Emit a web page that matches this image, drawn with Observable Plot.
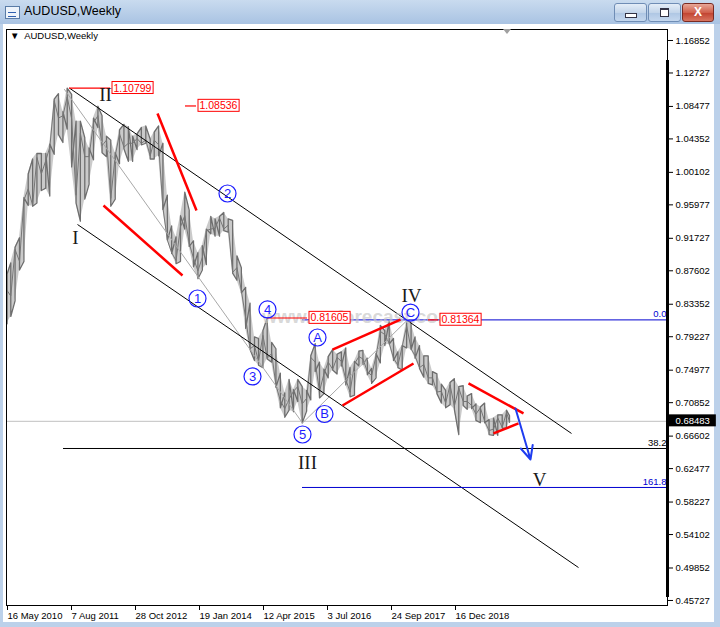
<!DOCTYPE html>
<html><head><meta charset="utf-8">
<script src="https://cdn.jsdelivr.net/npm/d3@7"></script>
<script src="https://cdn.jsdelivr.net/npm/@observablehq/plot@0.6"></script>
<style>
body{margin:0;background:#fff;}
#win{position:relative;width:720px;height:627px;background:#bcd1ea;overflow:hidden;font-family:"Liberation Sans",Arial,sans-serif;}
#titlebar{position:absolute;left:0;top:0;width:720px;height:24px;background:linear-gradient(#c9dbef,#a9c3e3);}
#ttl{position:absolute;left:24px;top:4px;font-size:12.5px;color:#000;}
#icon{position:absolute;left:5px;top:6px;width:13px;height:11px;border:1px solid #5a7ca6;background:#eef4fb;}
#icon:after{content:"";position:absolute;left:2px;top:5px;width:8px;height:3px;border-top:1px solid #3060b0;border-bottom:1px solid #3060b0;}
.btn{position:absolute;top:3px;height:17px;border:1px solid #6f8db5;border-radius:3px;background:linear-gradient(#e4edf7,#c3d5ea 50%,#aec6e3 51%,#c4d7ee);}
#bmin{left:614px;width:31px;}
#bmin:after{content:"";position:absolute;left:10px;top:9px;width:10px;height:3px;border:1px solid #334;background:#fff;}
#bmax{left:648px;width:31px;}
#bmax:after{content:"";position:absolute;left:11px;top:4px;width:7px;height:6px;border:1px solid #334;border-top-width:2px;background:#fff;}
#bcls{left:682px;width:30px;border-color:#7a2b23;background:linear-gradient(#e8a797,#d0604c 50%,#c0412f 51%,#d87560);color:#fff;font:bold 12px "Liberation Sans",Arial;text-align:center;line-height:17px;}
#panel{position:absolute;left:3px;top:24px;width:711px;height:598px;background:#fff;}
#chart{position:absolute;left:0;top:0;}
#thick{position:absolute;left:666px;top:60px;width:3px;height:537px;background:#000;}
#clabel{position:absolute;left:10px;top:30px;font-size:9.5px;color:#000;}
#shift{position:absolute;left:503px;top:29px;width:0;height:0;border-left:4px solid transparent;border-right:4px solid transparent;border-top:5px solid #a0a0a0;}
</style></head>
<body>
<div id="win">
  <div id="titlebar"><div id="icon"></div><div id="ttl">AUDUSD,Weekly</div>
    <div class="btn" id="bmin"></div><div class="btn" id="bmax"></div><div class="btn" id="bcls">X</div></div>
  <div id="panel"></div>
</div>
<script>
// ---- data (monthly high / low / close) ----
const months = [
"2010-05-20","2010-06-15","2010-07-15","2010-08-15","2010-09-15","2010-10-15","2010-11-15","2010-12-15",
"2011-01-15","2011-02-15","2011-03-15","2011-04-15","2011-05-15","2011-06-15","2011-07-15","2011-08-15","2011-09-15","2011-10-15","2011-11-15","2011-12-15",
"2012-01-15","2012-02-15","2012-03-15","2012-04-15","2012-05-15","2012-06-15","2012-07-15","2012-08-15","2012-09-15","2012-10-15","2012-11-15","2012-12-15",
"2013-01-15","2013-02-15","2013-03-15","2013-04-15","2013-05-15","2013-06-15","2013-07-15","2013-08-15","2013-09-15","2013-10-15","2013-11-15","2013-12-15",
"2014-01-15","2014-02-15","2014-03-15","2014-04-15","2014-05-15","2014-06-15","2014-07-15","2014-08-15","2014-09-15","2014-10-15","2014-11-15","2014-12-15",
"2015-01-15","2015-02-15","2015-03-15","2015-04-15","2015-05-15","2015-06-15","2015-07-15","2015-08-15","2015-09-15","2015-10-15","2015-11-15","2015-12-15",
"2016-01-15","2016-02-15","2016-03-15","2016-04-15","2016-05-15","2016-06-15","2016-07-15","2016-08-15","2016-09-15","2016-10-15","2016-11-15","2016-12-15",
"2017-01-15","2017-02-15","2017-03-15","2017-04-15","2017-05-15","2017-06-15","2017-07-15","2017-08-15","2017-09-15","2017-10-15","2017-11-15","2017-12-15",
"2018-01-15","2018-02-15","2018-03-15","2018-04-15","2018-05-15","2018-06-15","2018-07-15","2018-08-15","2018-09-15","2018-10-15","2018-11-15","2018-12-15",
"2019-01-15","2019-02-15","2019-03-15","2019-04-15","2019-05-15","2019-06-15","2019-07-15","2019-08-15","2019-09-15","2019-10-15","2019-11-15","2019-12-15",
"2020-01-05"];
const highs = [
0.8720,0.8860,0.9060,0.9180,0.9690,0.9990,1.0180,1.0250,
1.0250,1.0250,1.0370,1.0940,1.1010,1.0780,1.1080,1.1000,1.0660,1.0660,1.0450,1.0320,
1.0700,1.0850,1.0730,1.0470,1.0420,1.0260,1.0550,1.0620,1.0590,1.0470,1.0500,1.0580,
1.0600,1.0430,1.0520,1.0600,1.0380,0.9720,0.9330,0.9190,0.9460,0.9760,0.9530,0.9140,
0.8990,0.9080,0.9290,0.9450,0.9420,0.9450,0.9500,0.9420,0.9400,0.8950,0.8800,0.8550,
0.8350,0.7920,0.7900,0.8000,0.8160,0.7850,0.7770,0.7460,0.7210,0.7380,0.7250,0.7380,
0.7290,0.7240,0.7680,0.7835,0.7600,0.7510,0.7670,0.7760,0.7700,0.7730,0.7780,0.7530,
0.7610,0.7740,0.7750,0.7650,0.7520,0.7710,0.8065,0.8000,0.8125,0.7900,0.7730,0.7810,
0.8136,0.8100,0.7920,0.7810,0.7680,0.7680,0.7480,0.7450,0.7320,0.7240,0.7340,0.7390,
0.7290,0.7300,0.7170,0.7200,0.7070,0.7030,0.7080,0.6870,0.6890,0.6930,0.6930,0.6990,
0.6920];
const lows = [
0.8087,0.8180,0.8380,0.8770,0.8880,0.9590,0.9580,0.9620,
0.9780,0.9810,0.9710,1.0240,1.0490,1.0390,1.0560,1.0080,0.9620,0.9390,0.9670,0.9860,
1.0170,1.0580,1.0260,1.0210,0.9580,0.9670,1.0120,1.0310,1.0150,1.0150,1.0300,1.0360,
1.0380,1.0180,1.0180,1.0220,0.9540,0.9150,0.8980,0.8850,0.8880,0.9290,0.9070,0.8810,
0.8660,0.8770,0.8840,0.9230,0.9200,0.9200,0.9270,0.9250,0.8730,0.8640,0.8480,0.8030,
0.7760,0.7620,0.7560,0.7530,0.7640,0.7600,0.7280,0.7020,0.6900,0.6990,0.6970,0.7100,
0.6827,0.6980,0.7120,0.7480,0.7145,0.7200,0.7400,0.7500,0.7450,0.7550,0.7310,0.7160,
0.7180,0.7550,0.7570,0.7440,0.7330,0.7400,0.7590,0.7810,0.7830,0.7620,0.7530,0.7500,
0.7780,0.7760,0.7650,0.7520,0.7410,0.7330,0.7310,0.7200,0.7080,0.7020,0.7060,0.7000,
0.6680,0.7050,0.7000,0.7010,0.6860,0.6830,0.6830,0.6680,0.6670,0.6670,0.6760,0.6760,
0.6835];
const closes = [
0.8510,0.8440,0.9030,0.8880,0.9660,0.9800,0.9590,1.0200,
0.9990,1.0160,1.0330,1.0920,1.0700,1.0730,1.0970,1.0690,0.9720,1.0510,1.0210,1.0210,
1.0640,1.0730,1.0350,1.0420,0.9680,1.0220,1.0500,1.0330,1.0380,1.0380,1.0440,1.0380,
1.0420,1.0220,1.0420,1.0360,0.9560,0.9150,0.8990,0.8890,0.9320,0.9460,0.9110,0.8920,
0.8760,0.8930,0.9270,0.9290,0.9300,0.9430,0.9290,0.9340,0.8740,0.8800,0.8510,0.8160,
0.7770,0.7810,0.7610,0.7940,0.7650,0.7710,0.7310,0.7110,0.7010,0.7130,0.7230,0.7290,
0.7070,0.7140,0.7660,0.7600,0.7230,0.7450,0.7600,0.7510,0.7660,0.7610,0.7380,0.7220,
0.7580,0.7670,0.7640,0.7480,0.7430,0.7680,0.7990,0.7950,0.7840,0.7650,0.7560,0.7800,
0.8060,0.7770,0.7680,0.7530,0.7570,0.7400,0.7400,0.7220,0.7230,0.7080,0.7310,0.7040,
0.7270,0.7100,0.7100,0.7050,0.6940,0.7020,0.6850,0.6730,0.6750,0.6890,0.6770,0.6960,
0.6848];

const currentPrice = 0.68483;
const yTicks = [1.16852,1.12727,1.08477,1.04352,1.00102,0.95977,0.91727,0.87602,0.83352,0.79227,0.74977,0.70852,0.66602,0.62477,0.58227,0.54102,0.49852,0.45727];
const xTickDates = ["2010-05-16","2011-08-07","2012-10-28","2014-01-19","2015-04-12","2016-07-03","2017-09-24","2018-12-16"];
const xDomain = ["2010-05-16","2023-01-15"];
const yDomain = [0.45088, 1.18249];

// channel lines (black)
const channelStart = ["2011-07-31","2011-09-25"];
const channelStartVal = [1.1080, 0.9348];
const channelEnd = ["2021-03-14","2021-05-02"];
const channelEndVal = [0.6694, 0.4991];
// thin grey wave path II -> (5) -> (C)
const greyPathDates = ["2011-06-26","2016-01-17","2018-01-21"];
const greyPathVals = [1.1063, 0.6827, 0.8136];
// red trend lines
const redStart = ["2012-03-25","2013-04-07","2016-08-14","2016-10-23","2019-03-24","2019-09-15"];
const redStartVal = [0.9589, 1.0758, 0.7760, 0.7049, 0.7329, 0.6694];
const redEnd = ["2013-09-29","2014-01-05","2017-12-03","2018-03-04","2020-04-12","2020-03-08"];
const redEndVal = [0.8700, 0.9526, 0.8141, 0.7583, 0.6948, 0.6821];
// red price tags
const tagText = ["1.10799","1.08536","0.81605","0.81364"];
const tagVal = [1.10799, 1.08536, 0.81605, 0.81364];
const tagFrom = ["2011-07-31","2013-10-20","2015-05-17","2018-06-17"];
const tagTo = ["2012-05-13","2014-01-05","2016-02-21","2018-08-26"];
// fibonacci levels
const fibText = ["0.0","38.2","161.8"];
const fibVal = [0.81364, 0.6503, 0.6008];
const fibFrom = ["2016-01-17","2011-06-19","2016-01-17"];
const fibColor = ["#0000d0","#000000","#0000d0"];
// projection arrow
const arrowFrom = ["2020-02-16", 0.7011];
const arrowTo = ["2020-05-31", 0.6363];
// wave degree labels
const waveText = ["I","II","III","IV","V"];
const waveDates = ["2011-09-11","2012-04-08","2016-02-21","2018-02-18","2020-08-02"];
const waveVals = [0.9183, 1.0999, 0.6325, 0.8446, 0.6109];
// circled sub-wave labels
const subText = ["1","2","3","4","5","A","B","C"];
const subDates = ["2014-01-12","2014-08-10","2015-02-01","2015-05-17","2016-01-17","2016-05-01","2016-06-19","2018-02-11"];
const subVals = [0.8408, 0.9742, 0.7418, 0.8269, 0.6681, 0.7913, 0.6941, 0.8230];
const watermark = {text: "www.ewforecast.com", date: "2017-02-12", value: 0.8180};

// ---- build tables ----
const D = s => new Date(s + "T00:00:00Z");
const bars = months.map((m, i) => ({date: D(m), high: highs[i], low: lows[i], close: closes[i]}));
// bar path: each month's range drawn as a vertical stroke, joined in the order price travelled
const barPath = bars.flatMap((b, i) => {
  const up = i === 0 ? true : b.close >= bars[i - 1].close;
  return up ? [{date: b.date, v: b.low}, {date: b.date, v: b.high}] : [{date: b.date, v: b.high}, {date: b.date, v: b.low}];
});
const xEnd = D(xDomain[1]);
const channels = channelStart.map((s, i) => ({x1: D(s), y1: channelStartVal[i], x2: D(channelEnd[i]), y2: channelEndVal[i]}));
const greyPath = greyPathDates.map((s, i) => ({date: D(s), value: greyPathVals[i]}));
const reds = redStart.map((s, i) => ({x1: D(s), y1: redStartVal[i], x2: D(redEnd[i]), y2: redEndVal[i]}));
const tags = tagText.map((t, i) => ({text: t, value: tagVal[i], from: D(tagFrom[i]), to: D(tagTo[i])}));
const fibs = fibText.map((t, i) => ({text: t, value: fibVal[i], from: D(fibFrom[i]), to: xEnd, color: fibColor[i]}));
const arrows = [{x1: D(arrowFrom[0]), y1: arrowFrom[1], x2: D(arrowTo[0]), y2: arrowTo[1]}];
const waves = waveText.map((t, i) => ({text: t, date: D(waveDates[i]), value: waveVals[i]}));
const subs = subText.map((t, i) => ({text: t, date: D(subDates[i]), value: subVals[i]}));
const blue = "#1c1cff";

const chart = Plot.plot({
  width: 720, height: 627,
  marginTop: 29, marginBottom: 22, marginLeft: 6, marginRight: 53,
  style: {background: "transparent", fontFamily: "'Liberation Sans', Arial, sans-serif", fontSize: "9.5px", color: "#000", overflow: "visible"},
  x: {type: "utc", domain: xDomain.map(D)},
  y: {domain: yDomain},
  marks: [
    Plot.ruleY([currentPrice], {stroke: "#c0c0c0"}),
    Plot.areaY(bars, {x: "date", y1: "low", y2: "high", fill: "#8a8a8a", fillOpacity: 0.45}),
    Plot.line(barPath, {x: "date", y: "v", stroke: "#6e6e6e", strokeWidth: 1.3}),
    Plot.lineY(bars, {x: "date", y: "close", stroke: "#767676", strokeWidth: 1}),
    Plot.line(greyPath, {x: "date", y: "value", stroke: "#a8a8a8", strokeWidth: 1}),
    Plot.link(channels, {x1: "x1", y1: "y1", x2: "x2", y2: "y2", stroke: "#000", strokeWidth: 1}),
    Plot.ruleY(fibs, {y: "value", x1: "from", x2: "to", stroke: "color", strokeWidth: 1}),
    Plot.text(fibs, {x: "to", y: "value", text: "text", fill: "color", textAnchor: "end", dx: -1, dy: -6, fontSize: 9.5}),
    Plot.text([watermark], {x: d => D(d.date), y: "value", text: "text", fontSize: 19, fontWeight: "bold", fill: "#c8c8c8", fillOpacity: 0.7}),
    Plot.link(reds, {x1: "x1", y1: "y1", x2: "x2", y2: "y2", stroke: "#ff0000", strokeWidth: 2.5}),
    Plot.ruleY(tags, {y: "value", x1: "from", x2: "to", stroke: "#ff0000", strokeWidth: 1.2}),
    Plot.text(tags, {x: "to", y: "value", text: "text", fill: "#ff0000", textAnchor: "start", dx: 3, fontSize: 10.5, ariaDescription: "pricebox"}),
    Plot.arrow(arrows, {x1: "x1", y1: "y1", x2: "x2", y2: "y2", stroke: "#1e3cf0", strokeWidth: 2, headLength: 11, headAngle: 50}),
    Plot.text(waves, {x: "date", y: "value", text: "text", fontFamily: "'Liberation Serif', 'DejaVu Serif', serif", fontSize: 19, fill: "#1a1a1a"}),
    Plot.dot(subs, {x: "date", y: "value", r: 8.5, stroke: blue, strokeWidth: 1.2, fill: "none"}),
    Plot.text(subs, {x: "date", y: "value", text: "text", fill: blue, fontSize: 13}),
    Plot.frame({stroke: "#000"}),
    Plot.axisY(yTicks, {anchor: "right", tickSize: 5, tickPadding: 3, tickFormat: d3.format(".5f"), label: null, fontSize: 9.5}),
    Plot.axisX(xTickDates.map(D), {anchor: "bottom", tickSize: 5, tickPadding: 2, tickFormat: d3.utcFormat("%-d %b %Y"), textAnchor: "start", dx: 1, label: null, fontSize: 9.5}),
    Plot.text([currentPrice], {frameAnchor: "right", y: d => d, text: d => d3.format(".5f")(d), fill: "#fff", textAnchor: "start", dx: 8, fontSize: 9.5, ariaDescription: "curprice"})
  ]
});
chart.id = "chart";
const win = document.getElementById("win");
win.appendChild(chart);

function boxify(label, fillC, strokeC, pl, pr, pt, pb) {
  d3.select(chart).selectAll(`g[aria-description="${label}"] text`).each(function () {
    const b = this.getBBox();
    d3.select(this.parentNode).insert("rect", () => this)
      .attr("transform", this.getAttribute("transform"))
      .attr("x", b.x - pl).attr("y", b.y - pt)
      .attr("width", b.width + pl + pr).attr("height", b.height + pt + pb)
      .attr("fill", fillC).attr("stroke", strokeC).attr("stroke-width", 1);
  });
}
boxify("pricebox", "#fff", "#ff0000", 1.5, 1.5, 0, 0);
boxify("curprice", "#000", "none", 8, 6, 1, 0);

const extras = ['<div id="thick"></div>', '<div id="clabel">&#9660;&nbsp; AUDUSD,Weekly</div>', '<div id="shift"></div>'];
win.insertAdjacentHTML("beforeend", extras.join(""));
</script>
</body></html>
